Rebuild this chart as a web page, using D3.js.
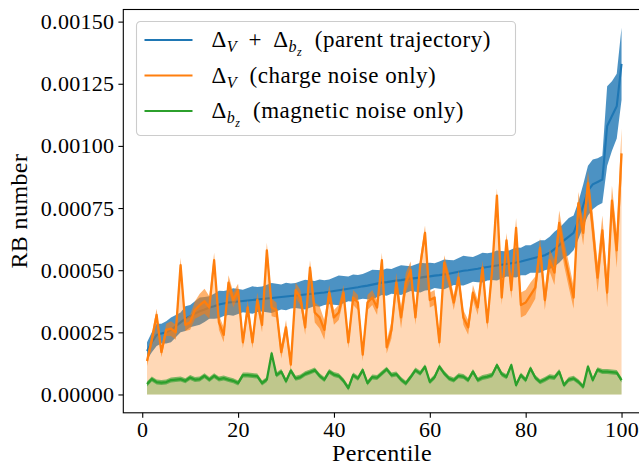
<!DOCTYPE html>
<html>
<head>
<meta charset="utf-8">
<script src="https://cdn.jsdelivr.net/npm/d3@7"></script>
<style>
  body { margin: 0; background: #fff; }
  svg { display: block; }
  text { font-family: "Liberation Serif", "DejaVu Serif", serif; fill: #000; }
</style>
</head>
<body>
<script>
// all series values are in units of 1e-4 (RB number)
var UNIT = 1e-4;

var percentile = d3.range(1, 101);

var parentMid = [
  1.75, 2.1, 2.4, 2.45, 2.5, 2.6, 2.75, 2.9, 3.05, 3.15,
  3.25, 3.35, 3.42, 3.5, 3.55, 3.62, 3.66, 3.7, 3.72, 3.74,
  3.76, 3.78, 3.8, 3.82, 3.84, 3.86, 3.88, 3.9, 3.92, 3.94,
  3.96, 3.98, 4.0, 4.02, 4.04, 4.06, 4.08, 4.1, 4.13, 4.16,
  4.19, 4.22, 4.25, 4.28, 4.31, 4.35, 4.38, 4.42, 4.46, 4.5,
  4.52, 4.55, 4.58, 4.6, 4.63, 4.66, 4.68, 4.7, 4.73, 4.75,
  4.78, 4.8, 4.83, 4.86, 4.9, 4.94, 4.98, 5.0, 5.03, 5.06,
  5.1, 5.13, 5.16, 5.19, 5.22, 5.25, 5.28, 5.31, 5.35, 5.4,
  5.45, 5.5, 5.55, 5.6, 5.7, 5.85, 6.0, 6.2, 6.35, 6.5,
  7.0, 7.6, 8.2, 8.45, 8.55, 8.65, 10.8, 11.2, 11.6, 13.3
];
var parentSpread = [
  0.35, 0.4, 0.45, 0.4, 0.45, 0.5, 0.45, 0.4, 0.5, 0.45,
  0.5, 0.55, 0.5, 0.45, 0.5, 0.55, 0.5, 0.5, 0.55, 0.5,
  0.45, 0.5, 0.55, 0.5, 0.5, 0.55, 0.6, 0.55, 0.5, 0.55,
  0.5, 0.5, 0.55, 0.6, 0.55, 0.5, 0.55, 0.5, 0.5, 0.55,
  0.6, 0.55, 0.5, 0.55, 0.5, 0.5, 0.55, 0.6, 0.55, 0.5,
  0.55, 0.5, 0.55, 0.6, 0.55, 0.5, 0.55, 0.6, 0.55, 0.55,
  0.5, 0.55, 0.6, 0.55, 0.5, 0.55, 0.6, 0.55, 0.5, 0.55,
  0.6, 0.55, 0.55, 0.6, 0.55, 0.5, 0.55, 0.6, 0.55, 0.6,
  0.55, 0.6, 0.65, 0.6, 0.65, 0.7, 0.7, 0.7, 0.75, 0.7,
  0.75, 0.85, 1.0, 1.0, 0.95, 0.95, 1.6, 1.4, 1.3, 1.45
];

var chargeMid = [
  1.35, 2.2, 3.2, 1.7, 2.6, 2.65, 2.5, 5.2, 2.8, 2.9,
  3.4, 3.6, 3.75, 3.5, 5.4, 2.9, 2.4, 4.5, 3.8, 4.2,
  2.1, 3.5, 2.1, 3.8, 2.8, 5.8, 3.5, 3.4, 1.7, 2.7,
  1.2, 4.2, 3.9, 2.7, 5.1, 3.3, 3.1, 2.6, 4.1, 3.1,
  3.3, 4.1, 2.1, 3.9, 3.7, 1.6, 3.7, 3.9, 3.5, 5.4,
  1.9, 2.6, 4.5, 3.1, 4.5, 5.0, 3.1, 5.2, 6.5, 3.8,
  3.9, 2.1, 5.3, 4.6, 3.7, 4.7, 3.1, 2.7, 4.1, 3.5,
  5.1, 2.9, 5.0, 8.0, 3.9, 6.2, 4.2, 6.7, 3.6, 3.7,
  4.0, 4.3, 5.9, 3.8, 5.4, 4.9, 6.9, 5.7, 4.8, 3.9,
  7.7, 6.5, 8.5, 6.7, 4.7, 6.6, 4.1, 7.8, 5.8, 9.7
];
var chargeSpread = [
  0.2, 0.25, 0.25, 0.2, 0.25, 0.3, 0.3, 0.3, 0.25, 0.3,
  0.35, 0.45, 0.5, 0.45, 0.3, 0.3, 0.3, 0.3, 0.3, 0.25,
  0.25, 0.3, 0.25, 0.3, 0.3, 0.3, 0.35, 0.3, 0.25, 0.3,
  0.25, 0.3, 0.3, 0.3, 0.3, 0.4, 0.45, 0.4, 0.3, 0.3,
  0.3, 0.3, 0.25, 0.3, 0.3, 0.25, 0.3, 0.3, 0.3, 0.3,
  0.25, 0.35, 0.4, 0.45, 0.4, 0.35, 0.3, 0.3, 0.3, 0.3,
  0.3, 0.25, 0.3, 0.3, 0.3, 0.3, 0.3, 0.3, 0.3, 0.3,
  0.3, 0.3, 0.3, 0.3, 0.3, 0.3, 0.35, 0.4, 0.5, 0.5,
  0.5, 0.45, 0.4, 0.4, 0.45, 0.5, 0.5, 0.5, 0.5, 0.45,
  0.45, 0.5, 0.5, 0.6, 0.6, 0.6, 0.6, 0.6, 0.7, 1.0
];

var magneticMid = [
  0.42, 0.62, 0.5, 0.48, 0.5, 0.58, 0.6, 0.62, 0.55, 0.68,
  0.6, 0.62, 0.75, 0.6, 0.75, 0.62, 0.66, 0.6, 0.55, 0.46,
  0.78, 0.78, 0.76, 0.74, 0.46, 0.6, 1.65, 0.78, 0.92, 0.53,
  0.96, 0.65, 0.7, 0.83, 0.9, 0.98, 0.75, 0.6, 0.92, 0.8,
  0.75, 0.55, 0.26, 0.78, 0.65, 0.98, 0.46, 0.7, 0.68, 0.85,
  1.02, 0.78, 0.82, 0.6, 0.45, 0.7, 0.98, 0.85, 1.12, 0.51,
  0.7, 1.12, 0.85, 0.65, 0.58, 0.75, 0.72, 0.58, 0.92, 0.58,
  0.68, 0.72, 0.78, 1.18, 0.82, 0.71, 1.18, 0.38, 0.78, 0.58,
  1.05, 0.68, 0.51, 0.6, 0.71, 0.68, 0.92, 0.38, 0.6, 0.65,
  0.51, 0.31, 1.12, 0.58, 1.0, 0.92, 0.92, 0.9, 0.88, 0.58
];
var magneticSpread = 0.1;

var yTicks = [0, 0.00025, 0.0005, 0.00075, 0.001, 0.00125, 0.0015];
var xTicks = [0, 20, 40, 60, 80, 100];

var seriesNames = [
  [{t: 'Δ'}, {t: 'V', lv: 1}, {t: ' \u2009+\u2009 Δ'}, {t: 'b', lv: 1}, {t: 'z', lv: 2}, {t: '  (parent trajectory)'}],
  [{t: 'Δ'}, {t: 'V', lv: 1}, {t: '  (charge noise only)'}],
  [{t: 'Δ'}, {t: 'b', lv: 1}, {t: 'z', lv: 2}, {t: '  (magnetic noise only)'}]
];
var colors = ['#1f77b4', '#ff7f0e', '#2ca02c'];

var W = 639, H = 468;
var mLeft = 123.3, mTop = 9.5, mBottom = 412.8;

var rows = percentile.map(function(p, i) {
  return {
    x: p,
    pm: parentMid[i] * UNIT, ps: parentSpread[i] * UNIT,
    cm: chargeMid[i] * UNIT, cs: chargeSpread[i] * UNIT,
    mm: magneticMid[i] * UNIT, ms: magneticSpread * UNIT
  };
});

// matplotlib style 5% margins
var xMin = d3.min(percentile), xMax = d3.max(percentile);
var xPad = (xMax - xMin) * 0.05;
var yMax = d3.max(rows, function(d) { return d.pm + d.ps; });
var yPad = yMax * 0.05;

var pxPerUnit = 4.793;
var x = d3.scaleLinear()
  .domain([xMin - xPad, xMax + xPad])
  .range([mLeft, mLeft + (xMax - xMin + 2 * xPad) * pxPerUnit]);
var y = d3.scaleLinear()
  .domain([-yPad, yMax + yPad])
  .range([mBottom, mTop]);

var svg = d3.select('body').append('svg')
  .attr('width', W)
  .attr('height', H);

var plot = svg.append('g');

function band(lo, hi) {
  return d3.area()
    .x(function(d) { return x(d.x); })
    .y0(function(d) { return y(lo(d)); })
    .y1(function(d) { return y(hi(d)); });
}
function line(v) {
  return d3.line()
    .x(function(d) { return x(d.x); })
    .y(function(d) { return y(v(d)); });
}

// parent trajectory
plot.append('path').datum(rows)
  .attr('fill', colors[0]).attr('fill-opacity', 0.8)
  .attr('d', band(function(d) { return d.pm - d.ps; }, function(d) { return d.pm + d.ps; }));
plot.append('path').datum(rows)
  .attr('fill', 'none').attr('stroke', colors[0]).attr('stroke-width', 2.1)
  .attr('d', line(function(d) { return d.pm; }));

// charge noise only
plot.append('path').datum(rows)
  .attr('fill', colors[1]).attr('fill-opacity', 0.6)
  .attr('d', band(function(d) { return d.cm - d.cs; }, function(d) { return d.cm + d.cs; }));
plot.append('path').datum(rows)
  .attr('fill', 'none').attr('stroke', colors[1]).attr('stroke-width', 2.3)
  .attr('stroke-linejoin', 'round')
  .attr('d', line(function(d) { return d.cm; }));
plot.append('path').datum(rows)
  .attr('fill', colors[1]).attr('fill-opacity', 0.3)
  .attr('d', band(function() { return 0; }, function(d) { return d.cm; }));

// magnetic noise only
plot.append('path').datum(rows)
  .attr('fill', colors[2]).attr('fill-opacity', 0.6)
  .attr('d', band(function(d) { return d.mm - d.ms; }, function(d) { return d.mm + d.ms; }));
plot.append('path').datum(rows)
  .attr('fill', 'none').attr('stroke', colors[2]).attr('stroke-width', 2.3)
  .attr('stroke-linejoin', 'round')
  .attr('d', line(function(d) { return d.mm; }));
plot.append('path').datum(rows)
  .attr('fill', colors[2]).attr('fill-opacity', 0.3)
  .attr('d', band(function() { return 0; }, function(d) { return d.mm; }));

// axes
var xAxis = svg.append('g')
  .attr('transform', 'translate(0,' + mBottom + ')')
  .call(d3.axisBottom(x).tickValues(xTicks).tickSize(4.9).tickPadding(4).tickSizeOuter(0));
var yAxis = svg.append('g')
  .attr('transform', 'translate(' + mLeft + ',0)')
  .call(d3.axisLeft(y).tickValues(yTicks).tickFormat(d3.format('.5f')).tickSize(4.9).tickPadding(4).tickSizeOuter(0));
[xAxis, yAxis].forEach(function(a) {
  a.selectAll('text').attr('fill', '#000')
    .style('font-size', '22px').style('letter-spacing', '0.3px').style('font-family', null);
  a.selectAll('line').attr('stroke', '#000').attr('stroke-width', 1.1);
  a.select('.domain').remove();
});

// frame
svg.append('rect')
  .attr('x', mLeft).attr('y', mTop)
  .attr('width', x.range()[1] - mLeft).attr('height', mBottom - mTop)
  .attr('fill', 'none').attr('stroke', '#000').attr('stroke-width', 1.1);

svg.append('text')
  .attr('x', 382).attr('y', 461)
  .attr('text-anchor', 'middle')
  .style('font-size', '24px').style('letter-spacing', '0.4px')
  .text('Percentile');
svg.append('text')
  .attr('transform', 'translate(27,' + (mTop + mBottom) / 2 + ') rotate(-90)')
  .attr('text-anchor', 'middle')
  .style('font-size', '24px').style('letter-spacing', '0.4px')
  .text('RB number');

// legend
var legend = svg.append('g').attr('transform', 'translate(136.5,21.5)');
legend.append('rect')
  .attr('width', 379).attr('height', 114).attr('rx', 4)
  .attr('fill', '#fff').attr('fill-opacity', 0.8)
  .attr('stroke', '#cccccc').attr('stroke-width', 1.1);

var sizes = [23, 16, 12], shifts = [0, 5, 8.5];
seriesNames.forEach(function(parts, i) {
  var cy = 18.5 + i * 35.5;
  legend.append('line')
    .attr('x1', 8).attr('x2', 56).attr('y1', cy).attr('y2', cy)
    .attr('stroke', colors[i]).attr('stroke-width', 2.1);
  var t = legend.append('text')
    .attr('x', 75).attr('y', cy + 7)
    .style('white-space', 'pre')
    .style('letter-spacing', '0.5px');
  var level = 0;
  parts.forEach(function(p) {
    var lv = p.lv || 0;
    t.append('tspan')
      .attr('dy', shifts[lv] - shifts[level])
      .style('font-size', sizes[lv] + 'px')
      .style('font-style', lv ? 'italic' : 'normal')
      .text(p.t);
    level = lv;
  });
});
</script>
</body>
</html>
